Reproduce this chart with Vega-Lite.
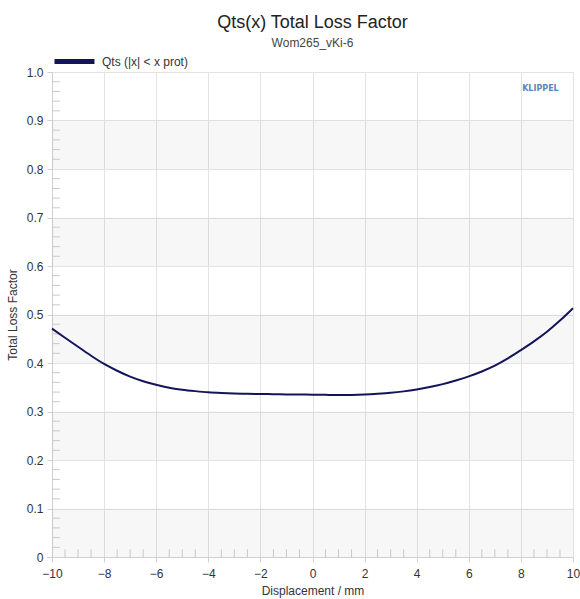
{
  "$schema": "https://vega.github.io/schema/vega-lite/v6.json",
  "width": 521,
  "height": 485,
  "autosize": {"type": "none"},
  "padding": {"left": 52, "top": 72, "right": 7, "bottom": 42},
  "background": "white",
  "config": {
    "font": "Liberation Sans",
    "view": {"stroke": null}
  },
  "title": {
    "text": "Qts(x) Total Loss Factor",
    "subtitle": "Wom265_vKi-6",
    "fontSize": 18,
    "fontWeight": "normal",
    "color": "#222",
    "subtitleFontSize": 12,
    "subtitleColor": "#444",
    "subtitlePadding": 6,
    "anchor": "middle",
    "frame": "group",
    "offset": -10
  },
  "datasets": {
    "curve": [
      {"x": -10, "q": 0.471, "s": "Qts (|x| < x prot)"},
      {"x": -9.5, "q": 0.452, "s": "Qts (|x| < x prot)"},
      {"x": -9, "q": 0.4335, "s": "Qts (|x| < x prot)"},
      {"x": -8.5, "q": 0.415, "s": "Qts (|x| < x prot)"},
      {"x": -8, "q": 0.398, "s": "Qts (|x| < x prot)"},
      {"x": -7.5, "q": 0.384, "s": "Qts (|x| < x prot)"},
      {"x": -7, "q": 0.372, "s": "Qts (|x| < x prot)"},
      {"x": -6.5, "q": 0.3625, "s": "Qts (|x| < x prot)"},
      {"x": -6, "q": 0.355, "s": "Qts (|x| < x prot)"},
      {"x": -5.5, "q": 0.349, "s": "Qts (|x| < x prot)"},
      {"x": -5, "q": 0.345, "s": "Qts (|x| < x prot)"},
      {"x": -4.5, "q": 0.342, "s": "Qts (|x| < x prot)"},
      {"x": -4, "q": 0.3395, "s": "Qts (|x| < x prot)"},
      {"x": -3.5, "q": 0.338, "s": "Qts (|x| < x prot)"},
      {"x": -3, "q": 0.337, "s": "Qts (|x| < x prot)"},
      {"x": -2.5, "q": 0.3365, "s": "Qts (|x| < x prot)"},
      {"x": -2, "q": 0.336, "s": "Qts (|x| < x prot)"},
      {"x": -1.5, "q": 0.3357, "s": "Qts (|x| < x prot)"},
      {"x": -1, "q": 0.3353, "s": "Qts (|x| < x prot)"},
      {"x": -0.5, "q": 0.335, "s": "Qts (|x| < x prot)"},
      {"x": 0, "q": 0.3347, "s": "Qts (|x| < x prot)"},
      {"x": 0.5, "q": 0.3343, "s": "Qts (|x| < x prot)"},
      {"x": 1, "q": 0.334, "s": "Qts (|x| < x prot)"},
      {"x": 1.5, "q": 0.3342, "s": "Qts (|x| < x prot)"},
      {"x": 2, "q": 0.335, "s": "Qts (|x| < x prot)"},
      {"x": 2.5, "q": 0.3365, "s": "Qts (|x| < x prot)"},
      {"x": 3, "q": 0.3385, "s": "Qts (|x| < x prot)"},
      {"x": 3.5, "q": 0.3415, "s": "Qts (|x| < x prot)"},
      {"x": 4, "q": 0.3455, "s": "Qts (|x| < x prot)"},
      {"x": 4.5, "q": 0.3505, "s": "Qts (|x| < x prot)"},
      {"x": 5, "q": 0.3565, "s": "Qts (|x| < x prot)"},
      {"x": 5.5, "q": 0.364, "s": "Qts (|x| < x prot)"},
      {"x": 6, "q": 0.3725, "s": "Qts (|x| < x prot)"},
      {"x": 6.5, "q": 0.3825, "s": "Qts (|x| < x prot)"},
      {"x": 7, "q": 0.3945, "s": "Qts (|x| < x prot)"},
      {"x": 7.5, "q": 0.4095, "s": "Qts (|x| < x prot)"},
      {"x": 8, "q": 0.4265, "s": "Qts (|x| < x prot)"},
      {"x": 8.5, "q": 0.4445, "s": "Qts (|x| < x prot)"},
      {"x": 9, "q": 0.4645, "s": "Qts (|x| < x prot)"},
      {"x": 9.5, "q": 0.4875, "s": "Qts (|x| < x prot)"},
      {"x": 10, "q": 0.513, "s": "Qts (|x| < x prot)"}
    ],
    "bands": [
      {"lo": 0.0, "hi": 0.1},
      {"lo": 0.2, "hi": 0.3},
      {"lo": 0.4, "hi": 0.5},
      {"lo": 0.6, "hi": 0.7},
      {"lo": 0.8, "hi": 0.9}
    ],
    "xminor": [
      {"m": -9.5}, {"m": -9}, {"m": -8.5},
      {"m": -7.5}, {"m": -7}, {"m": -6.5},
      {"m": -5.5}, {"m": -5}, {"m": -4.5},
      {"m": -3.5}, {"m": -3}, {"m": -2.5},
      {"m": -1.5}, {"m": -1}, {"m": -0.5},
      {"m": 0.5}, {"m": 1}, {"m": 1.5},
      {"m": 2.5}, {"m": 3}, {"m": 3.5},
      {"m": 4.5}, {"m": 5}, {"m": 5.5},
      {"m": 6.5}, {"m": 7}, {"m": 7.5},
      {"m": 8.5}, {"m": 9}, {"m": 9.5}
    ],
    "yminor": [
      {"m": 0.02}, {"m": 0.04}, {"m": 0.06}, {"m": 0.08},
      {"m": 0.12}, {"m": 0.14}, {"m": 0.16}, {"m": 0.18},
      {"m": 0.22}, {"m": 0.24}, {"m": 0.26}, {"m": 0.28},
      {"m": 0.32}, {"m": 0.34}, {"m": 0.36}, {"m": 0.38},
      {"m": 0.42}, {"m": 0.44}, {"m": 0.46}, {"m": 0.48},
      {"m": 0.52}, {"m": 0.54}, {"m": 0.56}, {"m": 0.58},
      {"m": 0.62}, {"m": 0.64}, {"m": 0.66}, {"m": 0.68},
      {"m": 0.72}, {"m": 0.74}, {"m": 0.76}, {"m": 0.78},
      {"m": 0.82}, {"m": 0.84}, {"m": 0.86}, {"m": 0.88},
      {"m": 0.92}, {"m": 0.94}, {"m": 0.96}, {"m": 0.98}
    ],
    "logo": [{"x": 8.75, "y": 0.965, "t": "KLIPPEL"}]
  },
  "layer": [
    {
      "data": {"name": "bands"},
      "mark": {"type": "rect", "fill": "#000000", "opacity": 0.03},
      "encoding": {
        "x": {"datum": -10, "type": "quantitative", "scale": {"domain": [-10, 10], "nice": false, "zero": false}},
        "x2": {"datum": 10},
        "y": {"field": "lo", "type": "quantitative", "scale": {"domain": [0, 1], "nice": false}},
        "y2": {"field": "hi"}
      }
    },
    {
      "data": {"name": "xminor"},
      "mark": {"type": "rule", "color": "#c8c8c8", "strokeWidth": 1},
      "encoding": {
        "x": {"field": "m", "type": "quantitative"},
        "y": {"datum": 0, "type": "quantitative"},
        "y2": {"datum": 0.016}
      }
    },
    {
      "data": {"name": "yminor"},
      "mark": {"type": "rule", "color": "#c8c8c8", "strokeWidth": 1},
      "encoding": {
        "y": {"field": "m", "type": "quantitative"},
        "x": {"datum": -10, "type": "quantitative"},
        "x2": {"datum": -9.7}
      }
    },
    {
      "data": {"name": "logo"},
      "mark": {"type": "text", "fontSize": 8, "fontWeight": "bold", "color": "#5a86b8", "font": "DejaVu Sans"},
      "encoding": {
        "x": {"field": "x", "type": "quantitative"},
        "y": {"field": "y", "type": "quantitative"},
        "text": {"field": "t"}
      }
    },
    {
      "data": {"name": "curve"},
      "mark": {"type": "line", "strokeWidth": 2, "interpolate": "monotone"},
      "encoding": {
        "x": {
          "field": "x", "type": "quantitative",
          "axis": {
            "title": "Displacement / mm",
            "values": [-10, -8, -6, -4, -2, 0, 2, 4, 6, 8, 10],
            "labelFlush": false,
            "grid": true, "gridColor": "#e3e3e3",
            "domainColor": "#d0d0d0", "tickColor": "#d0d0d0", "tickSize": 5,
            "labelFontSize": 12, "labelColor": "#333", "labelPadding": 6,
            "titleFontSize": 12, "titleFontWeight": "normal", "titleColor": "#333", "titlePadding": 6
          }
        },
        "y": {
          "field": "q", "type": "quantitative",
          "axis": {
            "title": "Total Loss Factor",
            "values": [0, 0.1, 0.2, 0.3, 0.4, 0.5, 0.6, 0.7, 0.8, 0.9, 1.0],
            "labelFlush": false,
            "labelExpr": "datum.value == 0 ? '0' : format(datum.value, '.1f')",
            "grid": true, "gridColor": "#e3e3e3",
            "domainColor": "#d0d0d0", "tickColor": "#d0d0d0", "tickSize": 5,
            "labelFontSize": 12, "labelColor": "#333", "labelPadding": 4,
            "titleFontSize": 12, "titleFontWeight": "normal", "titleColor": "#333", "titlePadding": 7
          }
        },
        "color": {
          "field": "s", "type": "nominal",
          "scale": {"range": ["#14145a"]},
          "legend": {
            "title": null,
            "orient": "none",
            "legendX": 0,
            "legendY": -33,
            "symbolType": "stroke",
            "symbolSize": 1600,
            "symbolStrokeWidth": 5,
            "labelFontSize": 12,
            "labelColor": "#333",
            "labelOffset": 5
          }
        }
      }
    }
  ]
}
